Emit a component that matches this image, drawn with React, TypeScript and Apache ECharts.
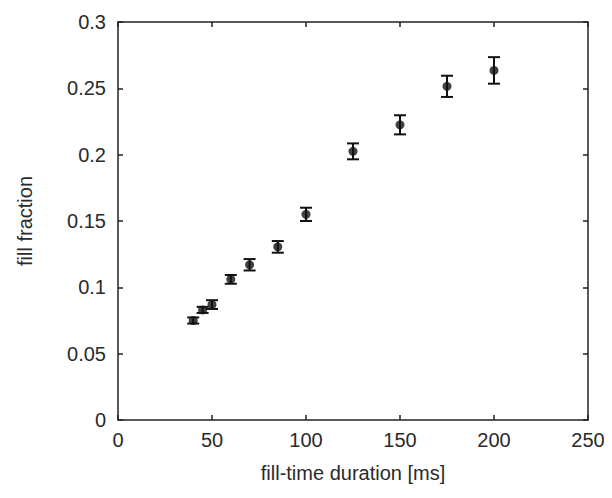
import React, { useEffect, useRef } from "react";
import * as echarts from "echarts";

const durations = [40, 45, 50, 60, 70, 85, 100, 125, 150, 175, 200];
const fillFraction = [0.075, 0.083, 0.087, 0.106, 0.117, 0.1305, 0.155, 0.2025, 0.2225, 0.2515, 0.2635];
const errors = [0.0023, 0.0023, 0.0033, 0.0033, 0.0043, 0.0044, 0.005, 0.006, 0.0072, 0.008, 0.01];
const xTicks = [0, 50, 100, 150, 200, 250];
const yTicks = [0, 0.05, 0.1, 0.15, 0.2, 0.25, 0.3];

export default function App() {
  const ref = useRef<HTMLDivElement>(null);
  useEffect(() => {
    const chart = echarts.init(ref.current!, null, { renderer: "svg" });
    const font = "'Liberation Sans', Arial, sans-serif";
    const txt = "#2a2a2a";
    const axisLine = { show: true, onZero: false, lineStyle: { color: "#222", width: 1.5 } };
    const axisTick = { show: true, inside: true, length: 5, lineStyle: { color: "#222", width: 1.5 } };
    const points = durations.map((d, i) => [d, fillFraction[i]]);
    const bars = durations.map((d, i) => [d, fillFraction[i], errors[i]]);
    chart.setOption({
      animation: false,
      grid: { left: 118, right: 24, top: 22, bottom: 78 },
      xAxis: [
        {
          type: "value", min: xTicks[0], max: xTicks[xTicks.length - 1], interval: 50, position: "bottom",
          axisLine, axisTick, splitLine: { show: false },
          axisLabel: { color: txt, fontSize: 20, fontFamily: font, margin: 10 },
          name: "fill-time duration [ms]", nameLocation: "middle", nameGap: 43,
          nameTextStyle: { color: txt, fontSize: 20, fontFamily: font },
        },
        {
          type: "value", min: xTicks[0], max: xTicks[xTicks.length - 1], interval: 50, position: "top",
          axisLine, axisTick, splitLine: { show: false }, axisLabel: { show: false },
        },
      ],
      yAxis: [
        {
          type: "value", min: yTicks[0], max: yTicks[yTicks.length - 1], interval: 0.05, position: "left",
          axisLine, axisTick, splitLine: { show: false },
          axisLabel: { color: txt, fontSize: 20, fontFamily: font, margin: 12 },
          name: "fill fraction", nameLocation: "middle", nameGap: 83,
          nameTextStyle: { color: txt, fontSize: 20, fontFamily: font },
        },
        {
          type: "value", min: yTicks[0], max: yTicks[yTicks.length - 1], interval: 0.05, position: "right",
          axisLine, axisTick, splitLine: { show: false }, axisLabel: { show: false },
        },
      ],
      series: [
        {
          type: "custom",
          xAxisIndex: 0, yAxisIndex: 0,
          data: bars,
          renderItem: (params: any, api: any) => {
            const x = api.value(0);
            const y = api.value(1);
            const e = api.value(2);
            const top = api.coord([x, y + e]);
            const bot = api.coord([x, y - e]);
            const w = 6;
            const style = { stroke: "#111", lineWidth: 2 };
            return {
              type: "group",
              children: [
                { type: "line", shape: { x1: top[0], y1: top[1], x2: bot[0], y2: bot[1] }, style },
                { type: "line", shape: { x1: top[0] - w, y1: top[1], x2: top[0] + w, y2: top[1] }, style },
                { type: "line", shape: { x1: bot[0] - w, y1: bot[1], x2: bot[0] + w, y2: bot[1] }, style },
              ],
            };
          },
          z: 2,
        },
        {
          type: "scatter",
          xAxisIndex: 0, yAxisIndex: 0,
          data: points,
          symbol: "circle",
          symbolSize: 9,
          itemStyle: { color: "#111" },
          z: 3,
        },
      ],
    });
    return () => chart.dispose();
  }, []);
  return <div ref={ref} style={{ width: 612, height: 498, margin: -8 }} />;
}
